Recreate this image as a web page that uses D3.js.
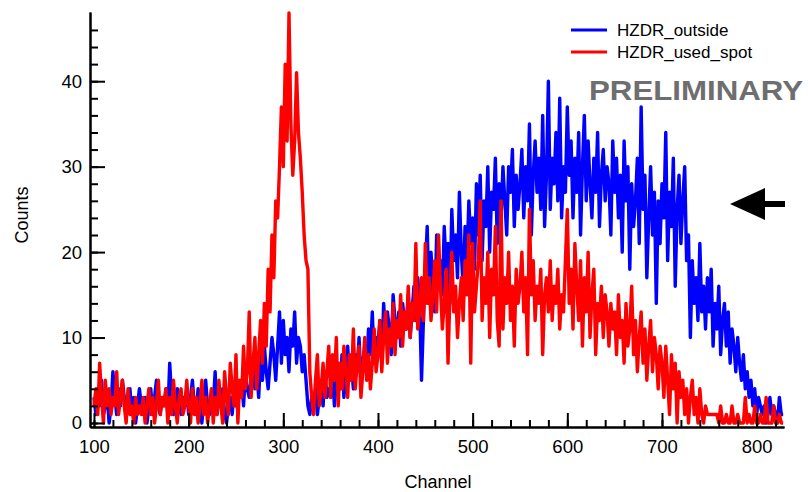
<!DOCTYPE html>
<html>
<head>
<meta charset="utf-8">
<script src="https://cdn.jsdelivr.net/npm/d3@7"></script>
<style>
  body { margin: 0; background: #fff; }
  text { font-family: "Liberation Sans", Arial, sans-serif; fill: #000; }
</style>
</head>
<body>
<div id="graf"></div>
<script>
// channel bins, every 2nd channel from 100 to 828
const channels = d3.range(100, 829, 2);

// HZDR_outside (blue)
const outside = [
  3,1,4,2,5,1,2,3,0,2,6,3,1,4,2,5,3,1,2,4,1,3,0,2,4,
  2,1,3,0,2,4,1,3,5,2,1,3,2,4,1,7,3,1,2,4,2,1,3,2,4,
  1,3,5,2,1,4,2,0,3,5,2,1,3,2,6,1,3,2,4,1,0,2,3,1,4,
  2,4,3,5,2,6,4,3,5,7,4,6,3,8,5,9,6,4,7,10,8,5,9,13,7,
  12,8,10,6,11,9,13,7,10,9,6,8,5,2,1,3,2,4,1,3,5,2,6,3,4,
  3,6,2,5,7,4,8,3,6,9,5,7,4,8,6,10,5,7,9,6,11,8,13,7,10,
  9,12,7,14,10,13,11,8,15,12,10,13,9,14,12,11,15,10,13,16,12,17,14,5,12,
  18,23,14,20,16,13,22,17,19,15,23,18,21,14,25,19,22,17,27,20,16,23,19,26,21,
  24,18,28,22,29,19,26,23,30,20,27,25,31,21,28,24,30,26,22,30,27,32,23,29,25,
  28,32,24,30,26,35,22,29,33,27,31,25,36,23,29,40,25,31,28,34,26,38,24,30,27,
  37,29,33,24,31,27,34,22,30,36,26,33,28,24,31,27,34,23,29,32,26,30,28,22,33,
  27,31,24,29,20,33,26,30,18,28,23,26,31,21,37,25,29,17,24,30,22,27,14,26,21,
  28,24,34,19,27,23,31,16,25,29,21,26,30,19,22,10,19,14,17,12,21,13,16,11,17,
  13,18,9,14,11,16,8,12,14,9,13,7,11,9,6,10,7,5,8,4,6,3,5,2,4,
  1,3,2,1,2,0,1,3,1,2,1,0,3,1,1
];

// HZDR_used_spot (red)
const usedSpot = [
  2,4,1,7,3,0,5,2,4,1,3,2,6,1,3,5,2,0,4,1,2,0,3,1,2,
  1,3,0,2,4,1,3,0,2,5,1,3,2,4,0,3,1,5,2,0,3,4,1,2,5,
  2,0,4,1,3,0,2,5,1,3,0,2,4,0,3,1,5,2,0,6,3,1,7,4,2,
  8,0,5,3,9,4,6,13,3,7,10,4,8,12,7,14,9,18,13,22,17,26,24,30,37,
  30,42,33,48,35,29,33,41,34,31,27,22,19,18,6,3,1,5,8,2,4,7,3,6,9,
  3,8,5,10,2,7,4,9,6,3,8,5,11,4,7,9,3,6,10,5,8,4,7,11,6,
  8,12,6,10,13,7,11,9,14,8,12,10,15,9,13,11,16,10,14,12,21,11,13,17,12,
  21,14,17,12,15,19,13,22,16,11,14,18,7,15,20,13,16,10,14,17,12,19,15,22,7,
  21,13,16,19,26,12,17,14,20,10,18,15,23,12,9,26,11,17,14,20,12,16,9,18,14,
  16,20,13,17,8,25,15,19,12,16,14,18,8,15,17,13,19,12,16,14,18,11,15,13,19,
  25,14,18,11,21,16,12,19,9,17,13,20,10,15,18,8,14,12,16,10,15,13,9,14,11,
  13,8,15,10,12,7,14,9,11,16,8,12,6,10,13,7,11,5,9,12,6,10,8,4,9,
  7,3,9,5,1,8,4,7,0,6,3,5,1,4,0,3,5,1,3,0,4,1,0,2,1,
  1,1,1,1,1,0,2,0,0,1,0,0,2,0,0,1,0,0,0,3,0,1,0,0,2,
  0,0,1,0,0,3,0,0,0,2,0,0,1,0,0
];

const series = [
  { name: "HZDR_outside", color: "#0000ff", values: outside },
  { name: "HZDR_used_spot", color: "#ff0000", values: usedSpot },
];

const xTicks = [100, 200, 300, 400, 500, 600, 700, 800];
const yTicks = [0, 10, 20, 30, 40];

const width = 808, height = 492;
const svg = d3.select("#graf").append("svg")
  .attr("width", width)
  .attr("height", height);

svg.append("rect").attr("width", width).attr("height", height).attr("fill", "#fff");

const x = d3.scaleLinear().domain([95.8, 828.9]).range([90, 784]);
const y = d3.scaleLinear().domain([-0.47, 48.1]).range([427, 12]);

// curves
const line = d3.line()
  .x((d, i) => x(channels[i]))
  .y(d => y(d));

svg.append("g").selectAll("path")
  .data(series)
  .join("path")
  .attr("d", d => line(d.values))
  .attr("fill", "none")
  .attr("stroke", d => d.color)
  .attr("stroke-width", 3.4)
  .attr("stroke-linejoin", "round");

// axes, ticks point into the plot
const minorX = svg.append("g").attr("transform", `translate(0,427)`)
  .call(d3.axisBottom(x).tickValues(d3.range(100, 829, 20)).tickSize(-7).tickSizeOuter(0).tickFormat(""));
const majorX = svg.append("g").attr("transform", `translate(0,427)`)
  .call(d3.axisBottom(x).tickValues(xTicks).tickSize(-14).tickSizeOuter(0).tickPadding(13));

const minorY = svg.append("g").attr("transform", `translate(90,0)`)
  .call(d3.axisLeft(y).tickValues(d3.range(0, 48, 2)).tickSize(-8).tickSizeOuter(0).tickFormat(""));
const majorY = svg.append("g").attr("transform", `translate(90,0)`)
  .call(d3.axisLeft(y).tickValues(yTicks).tickSize(-15).tickSizeOuter(0).tickPadding(8));

svg.selectAll(".domain, .tick line").attr("stroke", "#000").attr("stroke-width", 2);
svg.selectAll(".tick text").attr("font-size", 18.5).attr("fill", "#000")
  .attr("font-family", "Liberation Sans, Arial, sans-serif");
majorX.selectAll(".tick text").attr("dy", "0.71em");

// axis titles
svg.append("text")
  .attr("x", 438).attr("y", 488)
  .attr("text-anchor", "middle")
  .attr("font-size", 18)
  .text("Channel");

svg.append("text")
  .attr("transform", "translate(28,215) rotate(-90)")
  .attr("text-anchor", "middle")
  .attr("font-size", 18)
  .text("Counts");

// legend
const legend = svg.append("g").selectAll("g")
  .data(series)
  .join("g")
  .attr("transform", (d, i) => `translate(571,${30 + i * 22})`);
legend.append("line")
  .attr("x1", 0).attr("x2", 36)
  .attr("stroke", d => d.color)
  .attr("stroke-width", 3);
legend.append("text")
  .attr("x", 46).attr("y", 6)
  .attr("font-size", 17)
  .text(d => d.name);

svg.append("text")
  .attr("x", 589).attr("y", 100)
  .attr("font-size", 28)
  .attr("font-weight", "bold")
  .attr("textLength", 214)
  .attr("lengthAdjust", "spacingAndGlyphs")
  .style("fill", "#6e6e6e")
  .text("PRELIMINARY");

// arrow
svg.append("path")
  .attr("d", "M730,204 L765,188 L765,201 L785,201 L785,207 L765,207 L765,220 Z")
  .attr("fill", "#000");
</script>
</body>
</html>
